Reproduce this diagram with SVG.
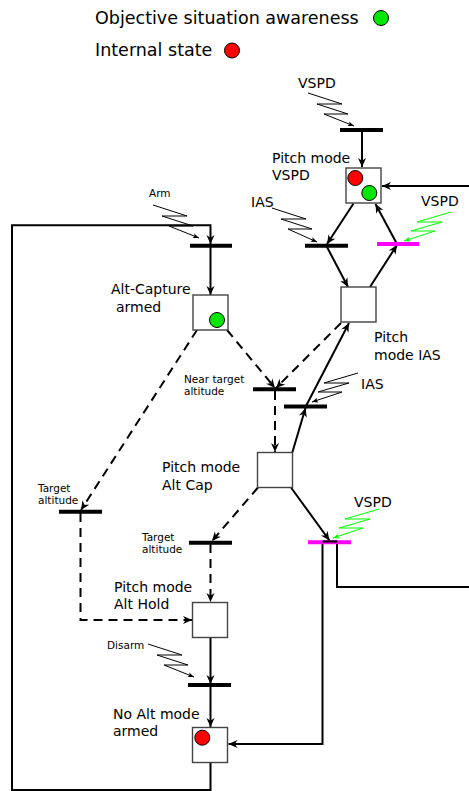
<svg xmlns="http://www.w3.org/2000/svg" width="469" height="791" viewBox="0 0 469 791">
<style>
text{font-family:"DejaVu Sans","Liberation Sans",sans-serif;fill:#000}
.leg{font-size:17.5px}
.lbl{font-size:14px}
.sm{font-size:10.5px}
.box{fill:#fff;stroke:#444;stroke-width:1.4}
.bar{stroke:#000;stroke-width:4;fill:none}
.mbar{stroke:#f0f;stroke-width:4;fill:none}
.c{stroke:#000;stroke-width:2;fill:none;marker-end:url(#ah)}
.cn{stroke:#000;stroke-width:2;fill:none}
.d{stroke:#000;stroke-width:2;fill:none;stroke-dasharray:9 6;marker-end:url(#ah)}
.z{stroke:#000;stroke-width:1;fill:none;marker-end:url(#za)}
.zg{stroke:#0f0;stroke-width:1;fill:none;marker-end:url(#zg)}
.gc{fill:#00e600;stroke:#000;stroke-width:1}
.rc{fill:#f00;stroke:#000;stroke-width:1}
</style>
<defs>
<marker id="ah" viewBox="0 0 10 10" refX="10" refY="5" markerWidth="10" markerHeight="9" markerUnits="userSpaceOnUse" orient="auto">
<path d="M0,0.5 L10,5 L0,9.5 L3,5 z" fill="#000"/>
</marker>
<marker id="za" viewBox="0 0 10 10" refX="10" refY="5" markerWidth="7" markerHeight="6" markerUnits="userSpaceOnUse" orient="auto">
<path d="M0,1 L10,5 L0,9 L2,5 z" fill="#000"/>
</marker>
<marker id="zg" viewBox="0 0 10 10" refX="10" refY="5" markerWidth="7" markerHeight="6" markerUnits="userSpaceOnUse" orient="auto">
<path d="M0,1 L10,5 L0,9 L2,5 z" fill="#0f0"/>
</marker>
</defs>

<g id="legend">
<text class="leg" x="95" y="24">Objective situation awareness</text>
<circle class="gc" cx="381" cy="18" r="7.5"/>
<text class="leg" x="95" y="56">Internal state</text>
<circle class="rc" cx="232" cy="50.5" r="7.5"/>
</g>

<g id="connectors">
<path class="c" d="M362,132 V167"/>
<path class="c" d="M353.5,203.5 L327,244"/>
<path class="c" d="M327,247 L348,287"/>
<path class="c" d="M370,287 L397,245"/>
<path class="c" d="M397,244 L375.5,204"/>
<path class="c" d="M469,186 H382"/>
<path class="c" d="M292.3,452.5 L305.5,408"/>
<path class="c" d="M305.5,407 L349,323"/>
<path class="c" d="M291,487.5 L329.5,540.5"/>
<path class="cn" d="M469,587 H337 V541.5 H322.5"/>
<path class="c" d="M322.5,541.5 V744 H228.5"/>
<path class="c" d="M210.5,762 V790 H12 V225.3 H210.5 V244"/>
<path class="c" d="M210.5,247 V295"/>
<path class="c" d="M210.5,637 V684"/>
<path class="c" d="M210.5,686 V727"/>
<path class="d" d="M197,330 L81,510"/>
<path class="d" d="M227,330 L275,388"/>
<path class="d" d="M341,323 L276,388"/>
<path class="d" d="M275,391 V452"/>
<path class="d" d="M258,487.5 L212,541"/>
<path class="d" d="M210.5,544 V602"/>
<path class="d" d="M80.5,513 V620 H192"/>
<polyline class="z" points="308,93 342,104 317,104 348,114 324,114 354,126"/>
<polyline class="z" points="272,208 306,219 281,219 312,229 288,229 317,242"/>
<polyline class="z" points="153,205 187,216 162,216 193,226 169,226 199,238"/>
<polyline class="z" points="148,644 182,655 157,655 188,665 164,665 194,677"/>
<polyline class="z" points="358,373 324,383 349,383 318,392 342,392 312,402"/>
<polyline class="zg" points="451,212 417,222 442,222 411,231 435,231 404,241"/>
<polyline class="zg" points="379,509 345,519 370,519 339,528 363,528 333,538"/>
</g>

<g id="transitions">
<line class="bar" x1="340" y1="130" x2="383" y2="130"/>
<line class="bar" x1="305" y1="245.7" x2="348" y2="245.7"/>
<line class="mbar" x1="377" y1="244" x2="419" y2="244"/>
<line class="bar" x1="190" y1="245.7" x2="232" y2="245.7"/>
<line class="bar" x1="253" y1="389.3" x2="296" y2="389.3"/>
<line class="bar" x1="284" y1="406.5" x2="327" y2="406.5"/>
<line class="bar" x1="59" y1="511.7" x2="102" y2="511.7"/>
<line class="bar" x1="189" y1="542.7" x2="232" y2="542.7"/>
<line class="mbar" x1="308" y1="542.3" x2="351" y2="542.3"/>
<path class="cn" d="M322.5,541.5 H337"/>
<line class="bar" x1="188" y1="685" x2="231" y2="685"/>
</g>

<g id="event-labels">
<text class="lbl" x="298" y="88">VSPD</text>
<text class="lbl" x="251" y="207">IAS</text>
<text class="lbl" x="421" y="206">VSPD</text>
<text class="lbl" x="361" y="389">IAS</text>
<text class="lbl" x="354" y="507">VSPD</text>
<text class="sm" x="149" y="197">Arm</text>
<text class="sm" x="184" y="383">Near target</text>
<text class="sm" x="184" y="395">altitude</text>
<text class="sm" x="38" y="492">Target</text>
<text class="sm" x="38" y="504">altitude</text>
<text class="sm" x="142" y="541">Target</text>
<text class="sm" x="142" y="553">altitude</text>
<text class="sm" x="107" y="649">Disarm</text>
</g>

<g id="node-vspd">
<rect class="box" x="346" y="168" width="35" height="35"/>
<circle class="rc" cx="355.3" cy="178" r="7.5"/>
<circle class="gc" cx="369.3" cy="193" r="7.5"/>
<text class="lbl" x="272" y="163">Pitch mode</text>
<text class="lbl" x="272" y="180">VSPD</text>
</g>

<g id="node-ias">
<rect class="box" x="341" y="287" width="35" height="35"/>
<text class="lbl" x="374" y="342">Pitch</text>
<text class="lbl" x="374" y="360">mode IAS</text>
</g>

<g id="node-altcap-armed">
<rect class="box" x="193" y="295" width="35" height="35"/>
<circle class="gc" cx="217" cy="320" r="7.5"/>
<text class="lbl" x="111" y="294">Alt-Capture</text>
<text class="lbl" x="116" y="312">armed</text>
</g>

<g id="node-altcap">
<rect class="box" x="257.5" y="452.5" width="35" height="35"/>
<text class="lbl" x="162" y="472">Pitch mode</text>
<text class="lbl" x="162" y="490">Alt Cap</text>
</g>

<g id="node-althold">
<rect class="box" x="192.5" y="602.5" width="35" height="35"/>
<text class="lbl" x="114" y="592">Pitch mode</text>
<text class="lbl" x="114" y="609">Alt Hold</text>
</g>

<g id="node-noalt">
<rect class="box" x="192.5" y="727.5" width="35" height="35"/>
<circle class="rc" cx="202.3" cy="737.7" r="7.5"/>
<text class="lbl" x="113" y="719">No Alt mode</text>
<text class="lbl" x="113" y="736">armed</text>
</g>
</svg>
